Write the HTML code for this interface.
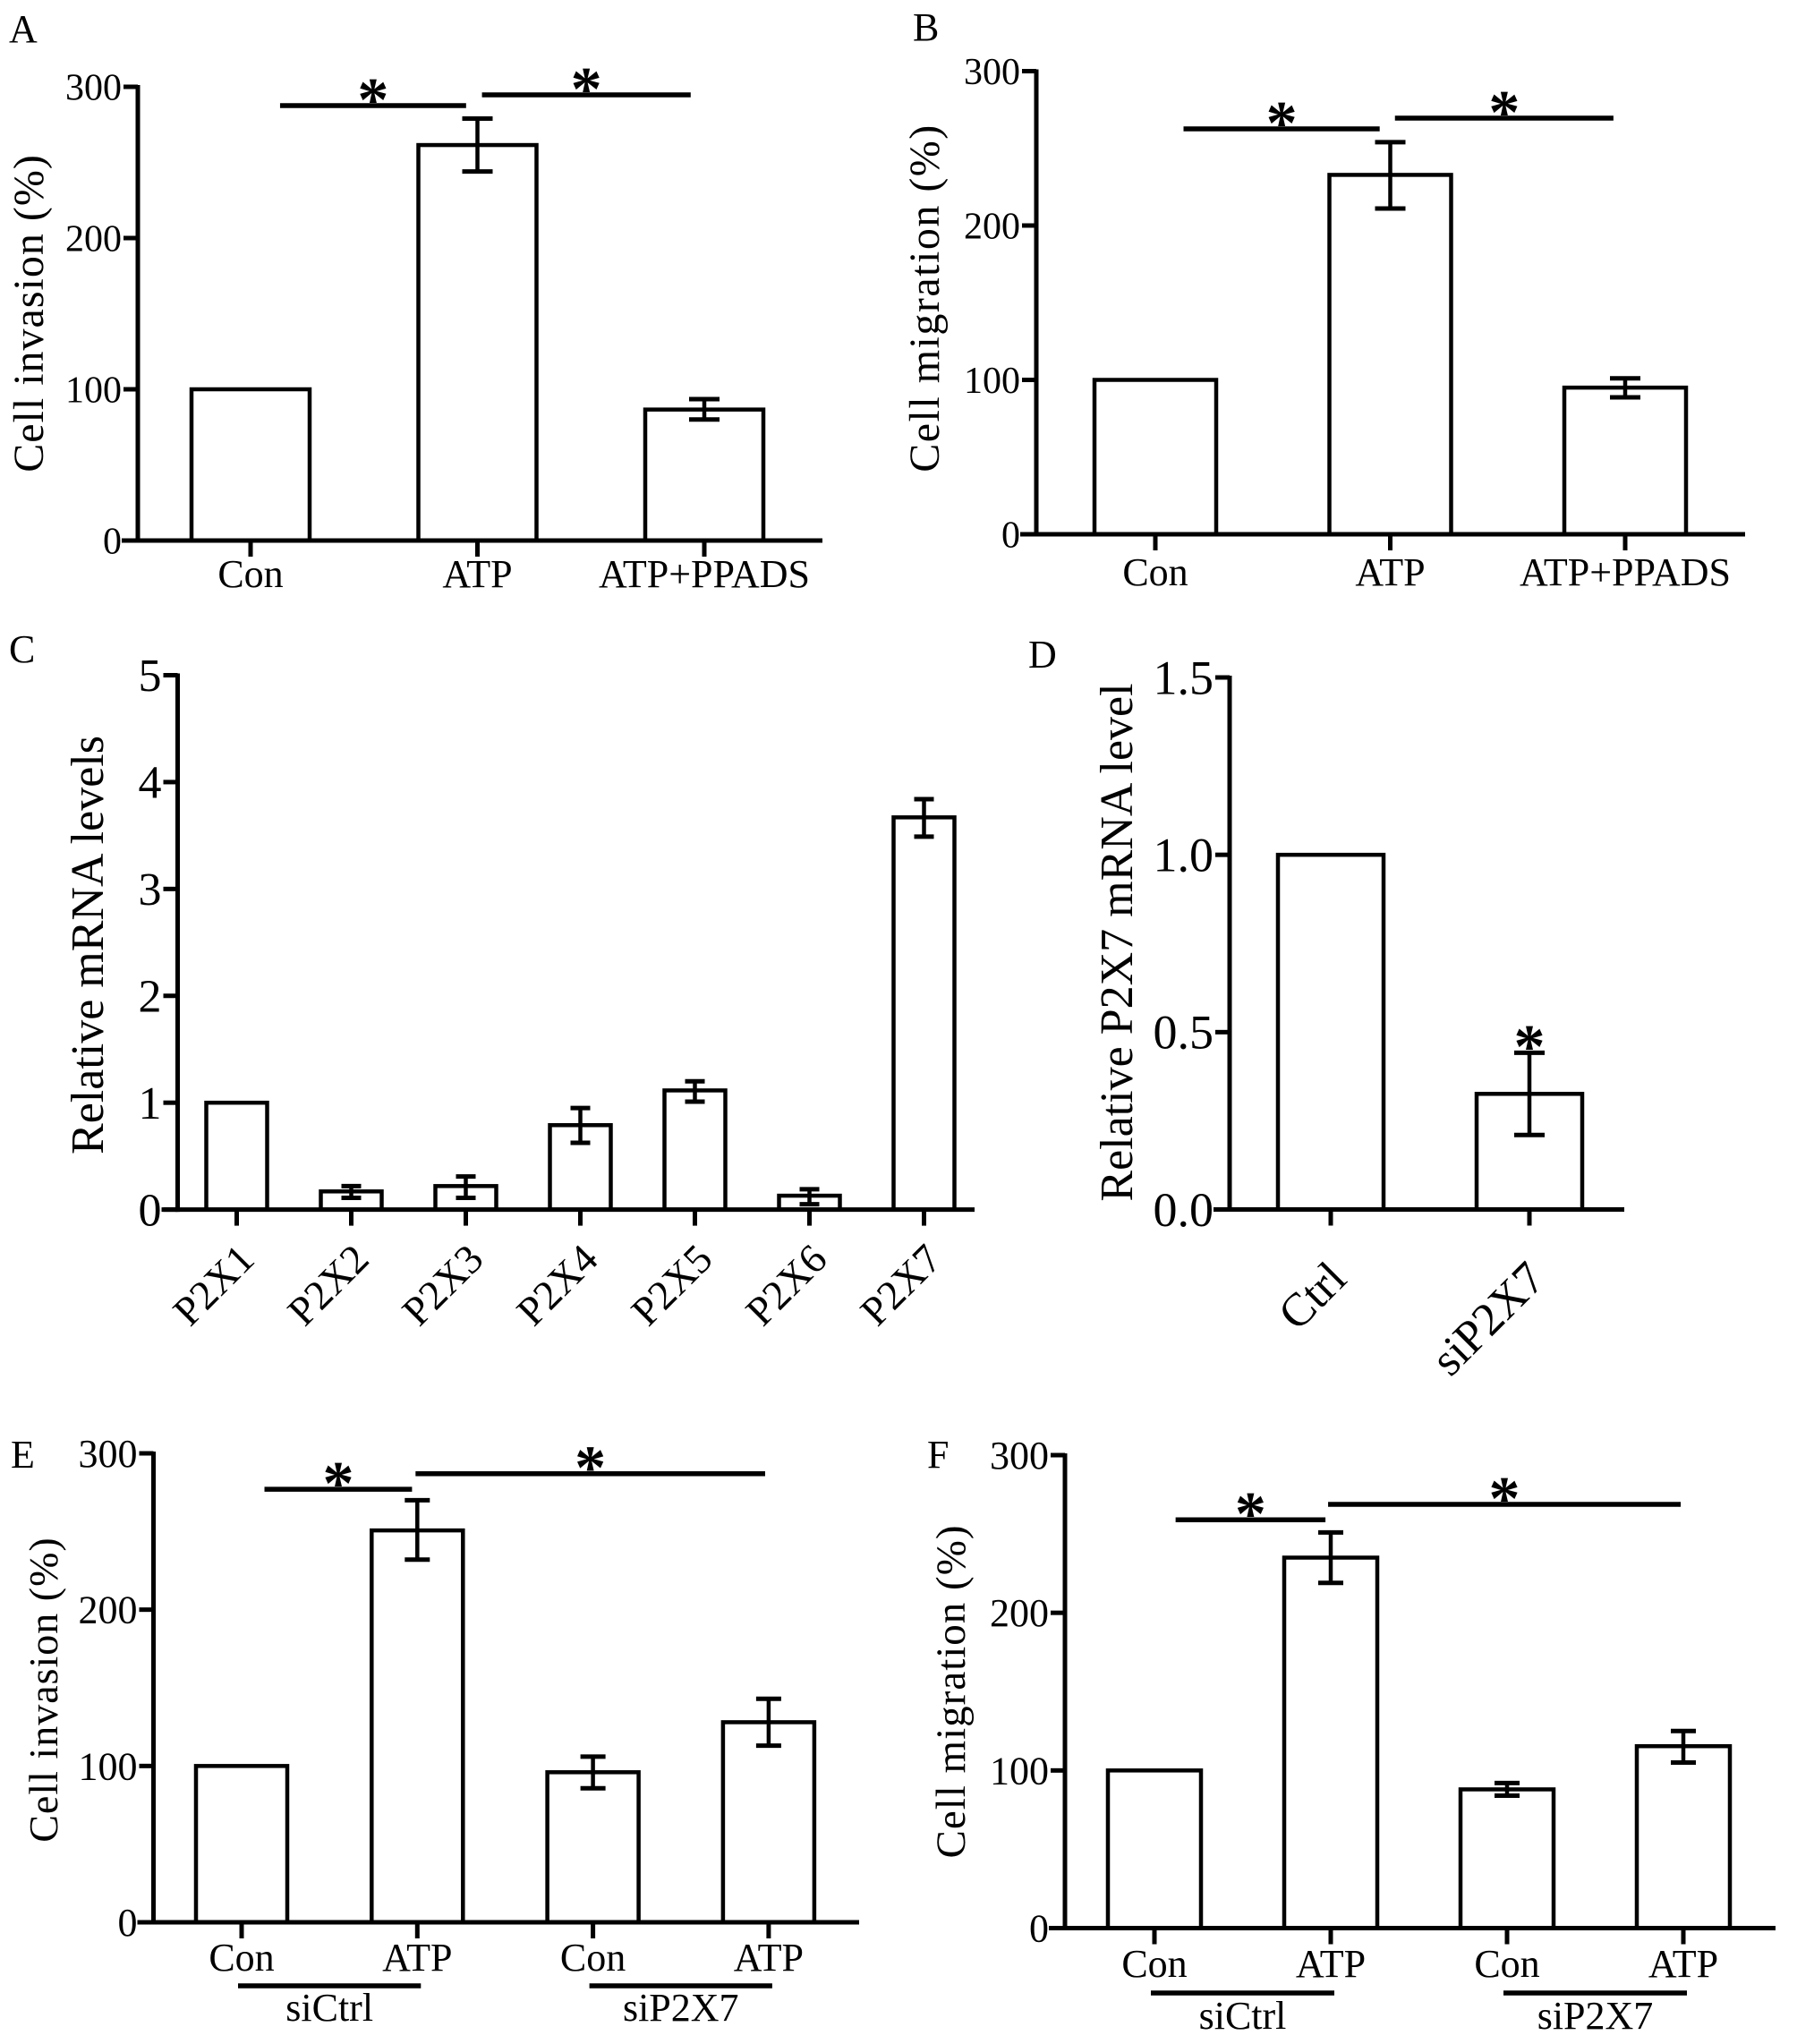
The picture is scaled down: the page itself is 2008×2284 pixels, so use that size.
<!DOCTYPE html>
<html><head><meta charset="utf-8"><style>
html,body{margin:0;padding:0;background:#fff;}
svg{display:block;}
text{font-family:"Liberation Serif",serif;fill:#000;}
</style></head><body>
<svg id="fig" width="2008" height="2284" viewBox="0 0 2008 2284" xmlns="http://www.w3.org/2000/svg"></svg>
<script>
// ---- data ----
const catsA = ["Con","ATP","ATP+PPADS"];
const valsA = [100, 261.5, 86.6];
const errHiA = [null, 279, 93.5];
const errLoA = [null, 244, 80];
const sigA = [[0.13,0.95,287.6],[1.02,1.94,294.7]];
const ticksA = [0,100,200,300];

const catsB = ["Con","ATP","ATP+PPADS"];
const valsB = [100, 232.8, 95];
const errHiB = [null, 254, 101];
const errLoB = [null, 211, 88.7];
const sigB = [[0.12,0.955,262.6],[1.02,1.95,269.6]];
const ticksB = [0,100,200,300];

const catsC = ["P2X1","P2X2","P2X3","P2X4","P2X5","P2X6","P2X7"];
const valsC = [1, 0.17, 0.22, 0.79, 1.115, 0.13, 3.67];
const errHiC = [null, 0.22, 0.31, 0.95, 1.2, 0.19, 3.84];
const errLoC = [null, 0.11, 0.11, 0.625, 1.01, 0.05, 3.49];
const ticksC = [0,1,2,3,4,5];

const catsD = ["Ctrl","siP2X7"];
const valsD = [1, 0.326];
const errHiD = [null, 0.442];
const errLoD = [null, 0.21];
const starD = [[1, 0.486]];
const ticksD = ["0.0","0.5","1.0","1.5"];

const catsE = ["Con","ATP","Con","ATP"];
const groupsE = ["siCtrl","siP2X7"];
const valsE = [100, 250.7, 96, 128];
const errHiE = [null, 270, 106, 143];
const errLoE = [null, 232, 85.7, 113];
const sigE = [[0.13,0.97,277],[0.99,2.98,287]];
const ticksE = [0,100,200,300];

const catsF = ["Con","ATP","Con","ATP"];
const groupsF = ["siCtrl","siP2X7"];
const valsF = [100, 235, 88, 115.4];
const errHiF = [null, 251, 92, 125];
const errLoF = [null, 219, 84, 105];
const sigF = [[0.12,0.97,259],[0.985,2.985,268.8]];
const ticksF = [0,100,200,300];

// ---- drawing ----
const NS = "http://www.w3.org/2000/svg";
const svg = document.getElementById("fig");
function mk(tag, attrs, parent){
  const e = document.createElementNS(NS, tag);
  for (const k in attrs) e.setAttribute(k, attrs[k]);
  (parent || svg).appendChild(e);
  return e;
}
function line(g, x1,y1,x2,y2,w,name){
  const l = mk("line",{x1:x1,y1:y1,x2:x2,y2:y2,stroke:"#000","stroke-width":w},g);
  
  
  return l;
}
function txt(g, s, x, y, size, anchor, name, extra){
  const t = mk("text",{x:x,y:y,"font-size":size,"text-anchor":anchor||"middle"},g);
  if (extra) for (const k in extra) t.setAttribute(k, extra[k]);
  t.textContent = s;
  
  
  return t;
}

function panel(c){
  const g = mk("g",{});
  
  
  const ymax = c.ymax;
  const Y = v => c.y0 - (v / ymax) * (c.y0 - c.yTop);
  const X = i => c.cat0 + i * c.sp;
  txt(g, c.letter, c.lx, c.ly, 44, "start", "panel-label");
  const tAttrs = {transform:`rotate(-90 ${c.tx} ${c.ty})`};
  if (c.titleSpacing) tAttrs["letter-spacing"] = c.titleSpacing;
  txt(g, c.title, c.tx, c.ty, c.titleSize, "middle", "y-axis-title", tAttrs);
  c.vals.forEach((v,i)=>{
    const r = mk("rect",{x:X(i)-c.bw/2, y:Y(v), width:c.bw, height:c.y0-Y(v), fill:"#fff", stroke:"#000","stroke-width":4.5},g);
    
    
  });
  c.vals.forEach((v,i)=>{
    if (c.hi[i] == null) return;
    const cx = X(i), cap = c.cap;
    line(g, cx, Y(c.hi[i]), cx, Y(c.lo[i]), 4.5, "error-bar");
    line(g, cx-cap, Y(c.hi[i]), cx+cap, Y(c.hi[i]), 5, "error-cap-top");
    line(g, cx-cap, Y(c.lo[i]), cx+cap, Y(c.lo[i]), 5, "error-cap-bottom");
  });
  line(g, c.ax, c.yTop-2, c.ax, c.y0+2.5, 5, "y-axis");
  line(g, c.ax-18, c.y0, c.axEnd, c.y0, 5, "x-axis");
  c.ticks.forEach((t,k)=>{
    const v = parseFloat(t);
    line(g, c.ax-16, Y(v), c.ax, Y(v), 5, "y-tick");
    txt(g, String(t), c.ax-18, Y(v)+c.tickSize*0.34, c.tickSize, "end", "y-tick-label");
  });
  c.cats.forEach((s,i)=>{
    line(g, X(i), c.y0, X(i), c.y0+18, 5, "x-tick");
    if (c.rot){
      const ax = X(i)+c.rdx, ay = c.y0 + c.rdy;
      txt(g, s, ax, ay, c.catSize, "end", "x-tick-label", {transform:`rotate(-45 ${ax} ${ay})`});
    } else {
      txt(g, s, X(i), c.labY, c.catSize, "middle", "x-tick-label");
    }
  });
  (c.sig||[]).forEach(s=>{
    const x1 = X(s[0]), x2 = X(s[1]), y = Y(s[2]);
    line(g, x1, y, x2, y, 5.5, "significance-line");
    txt(g, "*", (x1+x2)/2, y - 17 + 34, 70, "middle", "significance-star", {"font-family":"Liberation Sans, sans-serif","font-weight":"bold"});
  });
  (c.stars||[]).forEach(s=>{
    txt(g, "*", X(s[0]), Y(s[1]) + 34, 70, "middle", "significance-star", {"font-family":"Liberation Sans, sans-serif","font-weight":"bold"});
  });
  if (c.groups){
    c.groups.forEach((gname,k)=>{
      const a = X(2*k) - c.gpad, b = X(2*k+1) + c.gpad;
      line(g, a, c.gy, b, c.gy, 5.5, "group-line");
      txt(g, gname, (a+b)/2, c.gLabY, c.catSize, "middle", "group-label");
    });
  }
}

panel({name:"panel-a", letter:"A", lx:10, ly:47, title:"Cell invasion (%)", tx:48, ty:350, titleSize:48, titleSpacing:1,
  ymax:300, y0:604, yTop:97, ax:154, axEnd:919, cat0:280, sp:253.5, bw:132, cap:17,
  cats:catsA, vals:valsA, hi:errHiA, lo:errLoA, ticks:ticksA, sig:sigA, tickSize:42, catSize:44, labY:656});

panel({name:"panel-b", letter:"B", lx:1020, ly:45, title:"Cell migration (%)", tx:1049, ty:333, titleSize:48, titleSpacing:1.5,
  ymax:300, y0:597, yTop:79.5, ax:1158, axEnd:1950, cat0:1291, sp:262.5, bw:136, cap:17,
  cats:catsB, vals:valsB, hi:errHiB, lo:errLoB, ticks:ticksB, sig:sigB, tickSize:42, catSize:44, labY:654});

panel({name:"panel-c", letter:"C", lx:10, ly:740, title:"Relative mRNA levels", tx:115, ty:1056, titleSize:52,
  ymax:5, y0:1351.6, yTop:754.5, ax:198.5, axEnd:1089, cat0:264.5, sp:128, bw:68, cap:11,
  cats:catsC, vals:valsC, hi:errHiC, lo:errLoC, ticks:ticksC, tickSize:52, catSize:46, rot:true, rdx:22, rdy:58});

panel({name:"panel-d", letter:"D", lx:1149, ly:746, title:"Relative P2X7 mRNA level", tx:1265, ty:1053, titleSize:52,
  ymax:1.5, y0:1351.5, yTop:757, ax:1374, axEnd:1815, cat0:1487, sp:222, bw:118, cap:17,
  cats:catsD, vals:valsD, hi:errHiD, lo:errLoD, ticks:ticksD, stars:starD, tickSize:54, catSize:52, rot:true, rdx:20, rdy:80});

panel({name:"panel-e", letter:"E", lx:12, ly:1640, title:"Cell invasion (%)", tx:64, ty:1888, titleSize:46, titleSpacing:1,
  ymax:300, y0:2148, yTop:1624, ax:171.5, axEnd:960, cat0:270, sp:196.3, bw:102, cap:14,
  cats:catsE, vals:valsE, hi:errHiE, lo:errLoE, ticks:ticksE, sig:sigE, tickSize:44, catSize:44, labY:2202,
  groups:groupsE, gpad:4, gy:2219, gLabY:2258});

panel({name:"panel-f", letter:"F", lx:1036, ly:1640, title:"Cell migration (%)", tx:1078, ty:1890, titleSize:47, titleSpacing:1,
  ymax:300, y0:2154.5, yTop:1626, ax:1190, axEnd:1984, cat0:1290, sp:197, bw:104, cap:14,
  cats:catsF, vals:valsF, hi:errHiF, lo:errLoF, ticks:ticksF, sig:sigF, tickSize:44, catSize:44, labY:2209,
  groups:groupsF, gpad:4, gy:2227, gLabY:2267});
</script>
</body></html>
